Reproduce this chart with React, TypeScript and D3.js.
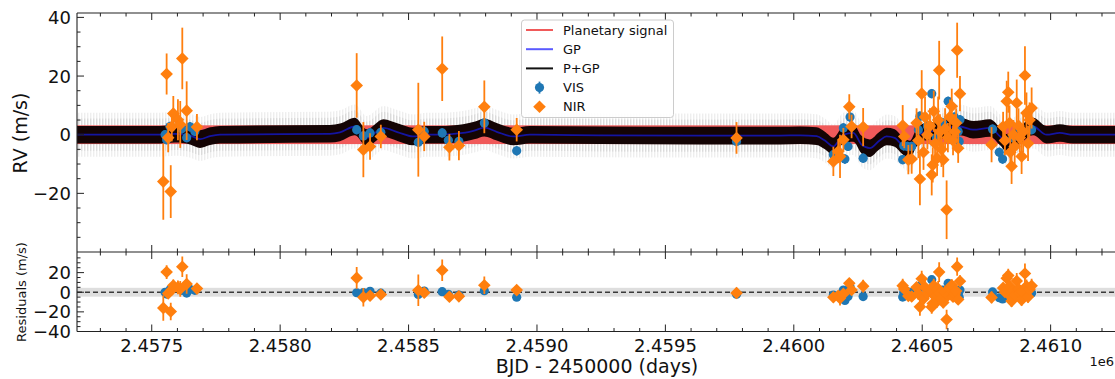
import React from "react";
import * as d3 from "d3";

// ---------- data ----------
const visT = [2457552, 2457558, 2457571, 2457617, 2457636, 2457649, 2457668,
  2458298, 2458324, 2458350, 2458392, 2458538, 2458561, 2458631, 2458655, 2458696, 2458795, 2458921,
  2459777,
  2460154, 2460193, 2460199, 2460211, 2460219, 2460270, 2460424, 2460428, 2460442, 2460459,
  2460485, 2460491, 2460520, 2460537, 2460555, 2460580, 2460601, 2460625, 2460640, 2460644, 2460647,
  2460774, 2460800, 2460813, 2460853, 2460880, 2460926];
const visRV = [0, -1.7, 2.8, 2.0, -1.0, 2.7, 1.1,
  1.7, -0.4, 0.6, 0.8, -2.6, 1.1, 0.6, -1.9, -2.3, 4.0, -5.5,
  -2.3,
  -6.8, 2.3, -8.3, -4.0, 6.0, -8.0, -8.5, -3.8, -4.0, -4.0,
  1.7, 6.3, 3.0, 14.0, -1.0, 4.0, 11.4, 6.0, 1.1, -2.3, 5.1,
  1.9, -6.0, -8.3, -1.0, 2.0, 1.7];
const visErr = visT.map(() => 1.6);

const nirT = [2457545, 2457558, 2457564, 2457574, 2457578, 2457584, 2457602, 2457611, 2457619, 2457636, 2457676,
  2458298, 2458324, 2458350, 2458392, 2458538, 2458561, 2458631, 2458659, 2458696, 2458795, 2458921,
  2459777,
  2460154, 2460173, 2460180, 2460193, 2460216, 2460225, 2460270, 2460424, 2460430, 2460446, 2460459,
  2460478, 2460485, 2460491, 2460498, 2460505, 2460511, 2460520, 2460530, 2460537, 2460541, 2460545,
  2460550, 2460558, 2460562, 2460566, 2460569, 2460575, 2460582, 2460589, 2460595, 2460600, 2460608,
  2460615, 2460620, 2460627, 2460632, 2460636, 2460640, 2460647,
  2460770, 2460815, 2460822, 2460829, 2460835, 2460840, 2460843, 2460848, 2460855, 2460860, 2460868,
  2460875, 2460880, 2460887, 2460893, 2460900, 2460906, 2460912, 2460918, 2460926];
const nirRV = [-16.0, 20.7, -1.0, -19.4, 2.7, 7.2, 5.1, 3.5, 26.0, 8.2, 2.6,
  16.8, -5.1, -4.0, -0.6, 1.7, -0.6, 22.5, -4.3, -3.7, 9.5, 1.7,
  -1.1,
  -9.1, -5.7, -7.4, -1.7, 9.5, 2.8, 2.6, 3.1, -0.6, -8.5, -8.3,
  4.0, -2.0, -15.1, 14.0, -6.0, 6.0, 0.0, 3.0, -13.7, -10.3, 8.0,
  -3.0, -8.0, 5.0, 22.0, 1.0, -5.0, -8.5, 2.0, -25.6, -1.0, 6.0,
  9.7, -2.0, 1.0, 4.0, 28.8, -4.6, 14.0,
  -3.4, 2.8, -2.0, 11.4, 14.5, 4.0, -6.0, -10.8, 0.0, -4.0, 10.8,
  3.0, -1.0, -7.4, 1.0, 20.2, 7.4, -3.0, 5.0, 9.1];
const nirErr = [13, 7, 5, 9, 5, 6, 7, 8, 10.5, 10, 4.5,
  11, 9.4, 4.5, 4, 16, 5, 11, 4.5, 5, 9, 4,
  5.4,
  5, 4, 7.4, 4, 4.3, 4, 6.5, 7, 4, 5, 5,
  5, 6, 9, 8, 6, 7, 5, 6, 7, 6, 7,
  5, 6, 8, 10, 6, 6, 6, 7, 10, 5, 6,
  6, 5, 6, 5, 9.4, 5, 6,
  6, 5, 5, 7, 7, 6, 6, 6, 5, 6, 8,
  6, 5, 6, 7, 10, 7, 6, 6, 7];

// GP model curve knots
const gpT = [2457209, 2457532, 2457591, 2457649, 2457688, 2457727, 2457766,
  2458194, 2458233, 2458291, 2458337, 2458402, 2458459, 2458517, 2458572, 2458622, 2458712, 2458759, 2458795, 2458843, 2458907, 2458973,
  2459245, 2459634, 2459946, 2460024, 2460089, 2460121, 2460154, 2460193, 2460232, 2460264, 2460296, 2460334, 2460361, 2460393, 2460420, 2460452,
  2460478, 2460511, 2460569, 2460608, 2460647, 2460698, 2460764, 2460803, 2460829, 2460881, 2460932, 2460984, 2461036, 2461087, 2461274];
const gpV = [0, 0, 0.3, -0.3, -1.5, -0.5, 0,
  0.3, 0.8, 2.8, -1.1, 2.3, 0.8, -0.6, 0, 0, 0.6, 1.5, 2.4, 1.0, -0.6, 0,
  -0.2, -0.3, -0.3, -0.2, -0.5, -2.0, -4.0, 0, 0.6, -3.4, -4.6, -2.0, -0.6, -1.1, -3.4, -5.1,
  -1.0, 1.0, 1.5, 2.5, 2.8, 1.7, 2.3, -0.6, -2.8, 0, 2.8, 0, 0.6, 0, 0];
const planetK = 3.2; // planetary signal semi-amplitude (m/s)
const residualBand = 4.5;

const xMajor = [2457500, 2458000, 2458500, 2459000, 2459500, 2460000, 2460500, 2461000];
const yTopMajor = [-20, 0, 20, 40];
const yBotMajor = [-40, -20, 0, 20];

const legendItems = ["Planetary signal", "GP", "P+GP", "VIS", "NIR"];

// ---------- colours ----------
const C_VIS = "#1f77b4";
const C_NIR = "#ff7f0e";
const FONT = "DejaVu Sans, sans-serif";

const fmtTick = (v: number) => (v < 0 ? "\u2212" : "") + Math.abs(v).toString();

export default function App() {
  const L = 77, R = 1121, T1 = 13, B1 = 252, T2 = 252, B2 = 331.5;
  const x = d3.scaleLinear().domain([2457209, 2461274]).range([L, R]);
  const yT = d3.scaleLinear().domain([-40, 41.5]).range([B1, T1]);
  const yB = d3.scaleLinear().domain([-40, 41]).range([B2, T2]);
  const gpAt = d3.scaleLinear().domain(gpT).range(gpV).clamp(true);

  const knots = gpT.map((t, i) => ({ t, v: gpV[i] }));
  const band = (w: number) =>
    d3.area<{ t: number; v: number }>()
      .x(d => x(d.t)).y0(d => yT(d.v - w)).y1(d => yT(d.v + w))
      .curve(d3.curveMonotoneX)(knots) || "";
  const gpLine = d3.line<{ t: number; v: number }>()
    .x(d => x(d.t)).y(d => yT(d.v)).curve(d3.curveMonotoneX)(knots) || "";

  const minorX = d3.range(2457300, 2461300, 100).filter(v => v % 500 !== 0);
  const minorYT = d3.range(-35, 41, 5).filter(v => v % 20 !== 0);
  const minorYB = d3.range(-35, 41, 5).filter(v => v % 20 !== 0);

  const vis = visT.map((t, i) => ({ t, v: visRV[i], e: visErr[i], r: visRV[i] - gpAt(t) }));
  const nir = nirT.map((t, i) => ({ t, v: nirRV[i], e: nirErr[i], r: nirRV[i] - gpAt(t) }));

  const diamond = (cx: number, cy: number, s: number) =>
    `M${cx},${cy - s}L${cx + s},${cy}L${cx},${cy + s}L${cx - s},${cy}Z`;

  const ticksMaj = 7, ticksMin = 3.5;

  const points = (yScale: d3.ScaleLinear<number, number>, key: "v" | "r") => (
    <g>
      {vis.map((d, i) => (
        <line key={"ve" + i} x1={x(d.t)} x2={x(d.t)} y1={yScale(d[key] - d.e)} y2={yScale(d[key] + d.e)}
          stroke={C_VIS} strokeWidth={1.8} />
      ))}
      {vis.map((d, i) => (
        <circle key={"vc" + i} cx={x(d.t)} cy={yScale(d[key])} r={4.6} fill={C_VIS} />
      ))}
      {nir.map((d, i) => (
        <line key={"ne" + i} x1={x(d.t)} x2={x(d.t)} y1={yScale(d[key] - d.e)} y2={yScale(d[key] + d.e)}
          stroke={C_NIR} strokeWidth={1.8} />
      ))}
      {nir.map((d, i) => (
        <path key={"nd" + i} d={diamond(x(d.t), yScale(d[key]), 6.3)} fill={C_NIR} />
      ))}
    </g>
  );

  return (
    <svg width={1115} height={379} style={{ position: "absolute", left: 0, top: 0, background: "#fff" }}
      fontFamily={FONT}>
      <defs>
        <pattern id="stripes" width={3} height={20} patternUnits="userSpaceOnUse">
          <rect x={0} y={0} width={1.4} height={20} fill="#cfcfcf" />
        </pattern>
        <clipPath id="clipTop"><rect x={L} y={T1} width={R - L} height={B1 - T1} /></clipPath>
        <clipPath id="clipBot"><rect x={L} y={T2} width={R - L} height={B2 - T2} /></clipPath>
      </defs>

      {/* ---------- top panel ---------- */}
      <g clipPath="url(#clipTop)">
        <path d={band(7.5)} fill="url(#stripes)" opacity={0.35} />
        <path d={band(5.5)} fill="url(#stripes)" opacity={0.6} />
        <rect x={L} width={R - L} y={yT(planetK)} height={yT(-planetK) - yT(planetK)} fill="#f05a5a" />
        <path d={band(3.0)} fill="#140404" />
        <path d={gpLine} fill="none" stroke="#1414a0" strokeWidth={1.8} />
        {points(yT, "v")}
      </g>

      {/* ---------- bottom panel ---------- */}
      <g clipPath="url(#clipBot)">
        <rect x={L} width={R - L} y={yB(residualBand)} height={yB(-residualBand) - yB(residualBand)} fill="#dedede" />
        <line x1={L} x2={R} y1={yB(0)} y2={yB(0)} stroke="#3a3a3a" strokeWidth={1.6} strokeDasharray="5,3" />
        {points(yB, "r")}
      </g>

      {/* ---------- axes: spines ---------- */}
      <g stroke="#222" strokeWidth={1.1} fill="none">
        <line x1={L} x2={R} y1={T1} y2={T1} />
        <line x1={L} x2={L} y1={T1} y2={B2} />
        <line x1={L} x2={R} y1={B1} y2={B1} />
        <line x1={L} x2={R} y1={B2} y2={B2} />
        <line x1={R} x2={R} y1={T1} y2={B2} />
      </g>

      {/* ticks */}
      <g stroke="#222" strokeWidth={1}>
        {xMajor.map(v => (
          <g key={"xm" + v}>
            <line x1={x(v)} x2={x(v)} y1={T1} y2={T1 + ticksMaj} />
            <line x1={x(v)} x2={x(v)} y1={B1} y2={B1 - ticksMaj} />
            <line x1={x(v)} x2={x(v)} y1={T2} y2={T2 + ticksMaj} />
            <line x1={x(v)} x2={x(v)} y1={B2} y2={B2 - ticksMaj} />
          </g>
        ))}
        {minorX.map(v => (
          <g key={"xn" + v}>
            <line x1={x(v)} x2={x(v)} y1={T1} y2={T1 + ticksMin} />
            <line x1={x(v)} x2={x(v)} y1={B1} y2={B1 - ticksMin} />
            <line x1={x(v)} x2={x(v)} y1={T2} y2={T2 + ticksMin} />
            <line x1={x(v)} x2={x(v)} y1={B2} y2={B2 - ticksMin} />
          </g>
        ))}
        {yTopMajor.map(v => (
          <line key={"ytm" + v} x1={L} x2={L + ticksMaj} y1={yT(v)} y2={yT(v)} />
        ))}
        {minorYT.map(v => (
          <line key={"ytn" + v} x1={L} x2={L + ticksMin} y1={yT(v)} y2={yT(v)} />
        ))}
        {yBotMajor.map(v => (
          <line key={"ybm" + v} x1={L} x2={L + ticksMaj} y1={yB(v)} y2={yB(v)} />
        ))}
        {minorYB.map(v => (
          <line key={"ybn" + v} x1={L} x2={L + ticksMin} y1={yB(v)} y2={yB(v)} />
        ))}
      </g>

      {/* tick labels */}
      <g fontSize={18} fill="#111">
        {yTopMajor.map(v => (
          <text key={"ytl" + v} x={71} y={yT(v)} textAnchor="end" dominantBaseline="central">{fmtTick(v)}</text>
        ))}
        {yBotMajor.map(v => (
          <text key={"ybl" + v} x={71} y={yB(v)} textAnchor="end" dominantBaseline="central">{fmtTick(v)}</text>
        ))}
        {xMajor.map(v => (
          <text key={"xl" + v} x={x(v)} y={352} textAnchor="middle">{(v / 1e6).toFixed(4)}</text>
        ))}
      </g>
      <text x={1114} y={366} fontSize={13} textAnchor="end" fill="#111">1e6</text>

      {/* axis labels */}
      <text x={(L + R) / 2 - 2} y={373} fontSize={19} textAnchor="middle" fill="#111">BJD - 2450000 (days)</text>
      <text transform="translate(27,133) rotate(-90)" fontSize={19} textAnchor="middle" fill="#111">RV (m/s)</text>
      <text transform="translate(25.5,292) rotate(-90)" fontSize={13} textAnchor="middle" fill="#111">Residuals (m/s)</text>

      {/* legend */}
      <g>
        <rect x={521.5} y={20} width={152} height={97.5} rx={3} fill="#fff" fillOpacity={0.85} stroke="#cccccc" strokeWidth={1} />
        {legendItems.map((name, i) => {
          const cy = 30 + i * 19.2;
          let handle: React.ReactNode = null;
          if (i === 0) handle = <line x1={526} x2={553} y1={cy} y2={cy} stroke="#f05a5a" strokeWidth={2} />;
          if (i === 1) handle = <line x1={526} x2={553} y1={cy} y2={cy} stroke="#5a5aff" strokeWidth={2} />;
          if (i === 2) handle = <line x1={526} x2={553} y1={cy} y2={cy} stroke="#111" strokeWidth={2} />;
          if (i === 3) handle = (
            <g>
              <line x1={539.5} x2={539.5} y1={cy - 6} y2={cy + 6} stroke={C_VIS} strokeWidth={1.8} />
              <circle cx={539.5} cy={cy} r={4.6} fill={C_VIS} />
            </g>
          );
          if (i === 4) handle = <path d={diamond(539.5, cy, 6.3)} fill={C_NIR} />;
          return (
            <g key={name}>
              {handle}
              <text x={563} y={cy} fontSize={13} dominantBaseline="central" fill="#111">{name}</text>
            </g>
          );
        })}
      </g>
    </svg>
  );
}
